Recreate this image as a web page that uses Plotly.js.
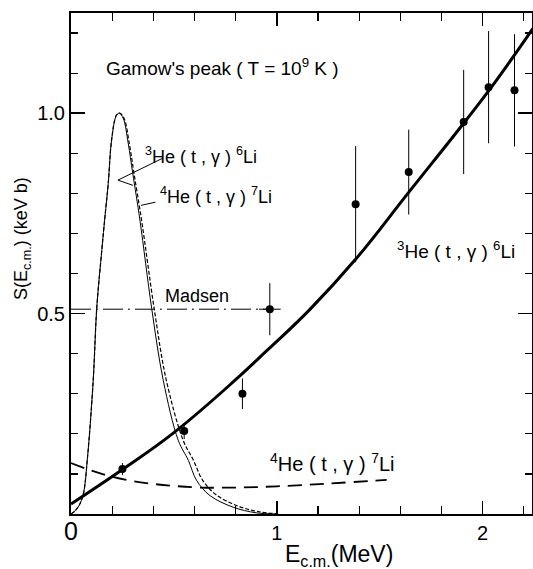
<!DOCTYPE html>
<html>
<head>
<meta charset="utf-8">
<script src="https://cdn.plot.ly/plotly-3.0.1.min.js"></script>
<style>html,body{margin:0;padding:0;background:#fff;}</style>
</head>
<body>
<div id="chart" style="width:533px;height:569px;"></div>
<script>
// Fitted S-factor curve, 3He(t,gamma)6Li
const fitE = [0, 0.25, 0.5, 0.8, 0.917, 1.16, 1.387, 1.637, 1.908, 2.05, 2.244];
const fitS = [0.025, 0.111, 0.203, 0.335, 0.391, 0.51, 0.638, 0.80, 0.975, 1.07, 1.211];

// Gamow peak (normalised), 3He(t,gamma)6Li - thin solid
const gamow6E = [0, 0.02, 0.04, 0.06, 0.08, 0.108, 0.125, 0.15, 0.165, 0.181, 0.197, 0.221, 0.235, 0.254, 0.278, 0.30, 0.335, 0.392, 0.448, 0.521, 0.57, 0.61, 0.675, 0.788, 0.90, 1.0];
const gamow6S = [0, 0.008, 0.022, 0.05, 0.14, 0.334, 0.513, 0.66, 0.742, 0.825, 0.932, 0.995, 1.0, 0.987, 0.925, 0.85, 0.733, 0.513, 0.334, 0.184, 0.134, 0.084, 0.046, 0.017, 0.003, 0.0];

// Gamow peak (normalised), 4He(t,gamma)7Li - short dashed
const gamow7E = [0, 0.02, 0.04, 0.06, 0.08, 0.108, 0.125, 0.15, 0.165, 0.181, 0.197, 0.221, 0.237, 0.258, 0.283, 0.306, 0.343, 0.404, 0.463, 0.545, 0.595, 0.64, 0.705, 0.81, 0.92, 1.0];
const gamow7S = [0, 0.008, 0.022, 0.05, 0.14, 0.334, 0.513, 0.66, 0.742, 0.825, 0.932, 0.995, 1.0, 0.987, 0.925, 0.85, 0.733, 0.513, 0.334, 0.184, 0.134, 0.084, 0.048, 0.02, 0.005, 0.001];

// S-factor, 4He(t,gamma)7Li - long dashed
const li7E = [0, 0.1, 0.2, 0.3, 0.4, 0.5, 0.626, 0.8, 1.0, 1.25, 1.534];
const li7S = [0.127, 0.108, 0.093, 0.082, 0.075, 0.07, 0.066, 0.066, 0.069, 0.076, 0.085];

// Madsen calculation (dash-dot)
const madsenE = [0, 0.966];
const madsenS = [0.511, 0.511];

// Measured points
const dataE = [0.25, 0.55, 0.833, 1.383, 1.641, 1.908, 2.029, 2.155];
const dataS = [0.112, 0.207, 0.300, 0.773, 0.853, 0.978, 1.065, 1.057];
const dataErr = [0.015, 0.02, 0.038, 0.145, 0.106, 0.13, 0.14, 0.14];

// Madsen point
const madPtE = [0.966];
const madPtS = [0.511];
const madPtErrE = [0.053];
const madPtErrS = [0.065];

// Tick labels
const xTickVals = [0, 1, 2];
const xTickText = ['<span style="font-size:25px">0</span>', '1', '2'];
const yTickVals = [0.5, 1.0];
const yTickText = ['0.5', '1.0'];

const FONT = 'Liberation Sans, Arial, sans-serif';

const traces = [
  {x: fitE, y: fitS, mode: 'lines', line: {color: '#000', width: 3, shape: 'spline', smoothing: 1.2}, hoverinfo: 'skip'},
  {x: gamow6E, y: gamow6S, mode: 'lines', line: {color: '#000', width: 1, shape: 'spline'}, hoverinfo: 'skip'},
  {x: gamow7E, y: gamow7S, mode: 'lines', line: {color: '#000', width: 1.2, shape: 'spline', dash: '4px,2px'}, hoverinfo: 'skip'},
  {x: li7E, y: li7S, mode: 'lines', line: {color: '#000', width: 1.8, shape: 'spline', dash: '14px,8px'}, hoverinfo: 'skip'},
  {x: madsenE, y: madsenS, mode: 'lines', line: {color: '#000', width: 1, dash: '20px,5px,2px,5px'}, hoverinfo: 'skip'},
  {x: dataE, y: dataS, mode: 'markers', marker: {color: '#000', size: 8},
   error_y: {type: 'data', array: dataErr, visible: true, color: '#000', thickness: 1, width: 0}},
  {x: madPtE, y: madPtS, mode: 'markers', marker: {color: '#000', size: 8},
   error_y: {type: 'data', array: madPtErrS, visible: true, color: '#000', thickness: 1, width: 0},
   error_x: {type: 'data', array: madPtErrE, visible: true, color: '#000', thickness: 1, width: 0}}
];

const lbl = (x, y, text, size) => ({x: x, y: y, xref: 'x', yref: 'y', text: text, showarrow: false,
  xanchor: 'left', yanchor: 'middle', font: {family: FONT, size: size || 18, color: '#000'}});

const layout = {
  width: 533, height: 569,
  margin: {l: 71, r: 1, t: 13, b: 55},
  paper_bgcolor: '#fff', plot_bgcolor: '#fff',
  showlegend: false,
  font: {family: FONT, color: '#000', size: 20},
  xaxis: {
    range: [0, 2.24], showgrid: false, zeroline: false,
    showline: true, linewidth: 2, linecolor: '#000', mirror: 'allticks',
    ticks: 'inside', ticklen: 13, tickwidth: 1.5, tickcolor: '#000',
    tickmode: 'array', tickvals: xTickVals, ticktext: xTickText,
    tickfont: {family: FONT, size: 20, color: '#000'},
    minor: {tickmode: 'linear', tick0: 0, dtick: 0.2, ticks: 'inside', ticklen: 8, tickwidth: 1.2, tickcolor: '#000', showgrid: false}
  },
  yaxis: {
    range: [0, 1.25], showgrid: false, zeroline: false,
    showline: true, linewidth: 2, linecolor: '#000', mirror: 'allticks',
    ticks: 'inside', ticklen: 14, tickwidth: 1.5, tickcolor: '#000',
    tickmode: 'array', tickvals: yTickVals, ticktext: yTickText,
    tickfont: {family: FONT, size: 20, color: '#000'},
    minor: {tickmode: 'linear', tick0: 0, dtick: 0.1, ticks: 'inside', ticklen: 7, tickwidth: 1.2, tickcolor: '#000', showgrid: false}
  },
  annotations: [
    lbl(0.16, 1.115, "Gamow's peak ( T = 10<sup>9</sup> K )", 19),
    lbl(0.35, 0.895, '<sup>3</sup>He ( t , γ ) <sup>6</sup>Li', 18),
    lbl(0.422, 0.795, '<sup>4</sup>He ( t , γ ) <sup>7</sup>Li', 18),
    lbl(0.447, 0.543, 'Madsen', 18),
    lbl(1.573, 0.658, '<sup>3</sup>He ( t , γ ) <sup>6</sup>Li', 19),
    lbl(0.956, 0.129, '<sup>4</sup>He ( t , γ ) <sup>7</sup>Li', 20),
    {xref: 'paper', yref: 'paper', x: -0.105, y: 0.55, text: 'S(E<sub>c.m.</sub>) (keV b)', textangle: -90,
     showarrow: false, xanchor: 'center', yanchor: 'middle', font: {family: FONT, size: 18, color: '#000'}},
    {xref: 'paper', yref: 'paper', x: 0.582, y: -0.05, text: 'E<sub>c.m.</sub>(MeV)',
     showarrow: false, xanchor: 'center', yanchor: 'top', font: {family: FONT, size: 23, color: '#000'}}
  ],
  shapes: [
    {type: 'line', xref: 'x', yref: 'y', x0: 0.447, y0: 0.888, x1: 0.228, y1: 0.833, line: {color: '#000', width: 1}},
    {type: 'line', xref: 'x', yref: 'y', x0: 0.228, y0: 0.833, x1: 0.301, y1: 0.820, line: {color: '#000', width: 1}},
    {type: 'line', xref: 'x', yref: 'y', x0: 0.340, y0: 0.770, x1: 0.41, y1: 0.778, line: {color: '#000', width: 1}}
  ]
};

Plotly.newPlot('chart', traces, layout, {staticPlot: true, displayModeBar: false});
</script>
</body>
</html>
